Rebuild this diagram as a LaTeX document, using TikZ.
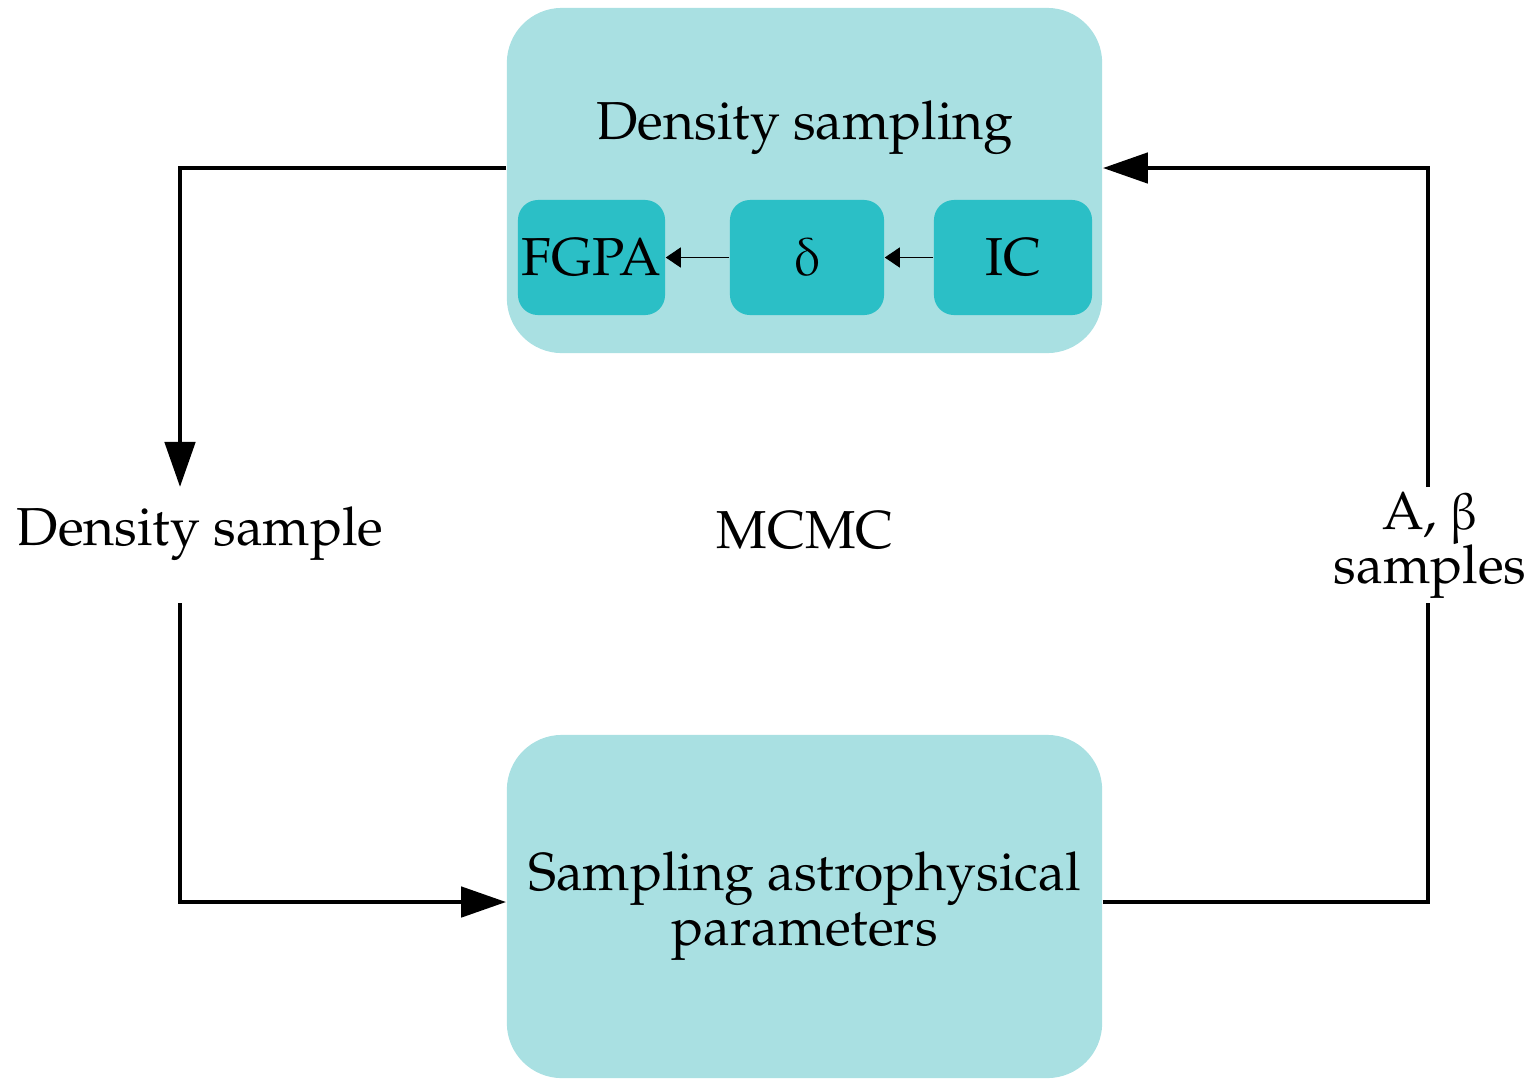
\documentclass[tikz,border=0pt]{standalone}
\usepackage[T1]{fontenc}
\usepackage{pxfonts}
\usetikzlibrary{arrows.meta}

\definecolor{outerc}{HTML}{A9E0E2}
\definecolor{innerc}{HTML}{2BBFC6}

\begin{document}
\begin{tikzpicture}[x=0.01cm, y=-0.01cm,
    font=\fontsize{15.2}{15.5}\selectfont,
    stage/.style={rectangle, rounded corners=0.55cm, fill=outerc,
      minimum width=5.95cm, minimum height=3.45cm, inner sep=0pt},
    part/.style={rectangle, rounded corners=0.2cm, fill=innerc,
      minimum height=1.15cm, inner sep=0pt},
    flow/.style={line width=1.35pt, -{Triangle[length=0.45cm,width=0.3cm]}},
    link/.style={line width=0.35pt, -{Triangle[length=0.15cm,width=0.2cm]}}]

  \useasboundingbox (0,0) rectangle (1534,1078);

  \node[stage] (top) at (804.5,180.5) {};
  \node (toplab) at (805,128) {Density sampling};
  \node[part,minimum width=1.47cm] (fgpa) at (591.5,257.5) {FGPA};
  \node[part,minimum width=1.54cm] (delta) at (807,257.5) {$\deltaup$};
  \node[part,minimum width=1.58cm] (ic) at (1013,257.5) {IC};

  \node[stage,minimum height=3.43cm,align=center] (bot) at (804.5,906.5)
    {Sampling astrophysical\\parameters};

  \node (mcmc) at (805,530) {MCMC};
  \node (ds) at (200,534) {Density sample};
  \node[align=center] (ab) at (1430,545) {A, $\betaup$\\samples};

  \coordinate (tl) at (180,168);
  \coordinate (tr) at (1428,168);
  \coordinate (bl) at (180,902);
  \coordinate (br) at (1428,902);
  \coordinate (dsin) at (180,487);
  \coordinate (dsout) at (180,603);
  \coordinate (abin) at (1428,603);
  \coordinate (about) at (1428,487);

  \draw[link] (ic) -- (delta);
  \draw[link] (delta) -- (fgpa);

  \draw[flow] (top.west |- tl) -- (tl) -- (dsin);
  \draw[flow] (dsout) -- (bl) -- (bot.west |- bl);
  \draw[line width=1.35pt] (bot.east |- br) -- (br) -- (abin);
  \draw[flow] (about) -- (tr) -- (top.east |- tr);

\end{tikzpicture}
\end{document}
